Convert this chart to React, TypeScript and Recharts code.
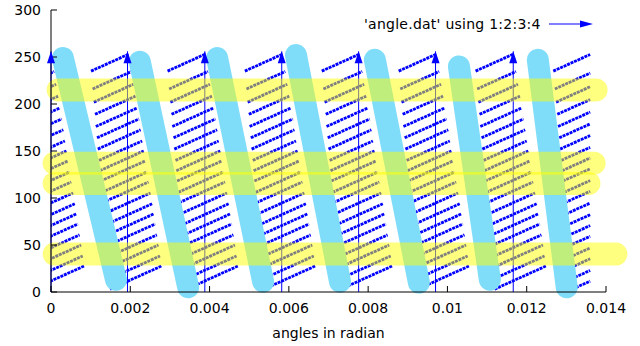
import { ComposedChart, Line, XAxis, YAxis, ReferenceLine, Legend } from "recharts";

// axes
const xTicks = [0, 0.002, 0.004, 0.006, 0.008, 0.01, 0.012, 0.014];
const yTicks = [0, 50, 100, 150, 200, 250, 300];

// long vertical vectors
const arrowX = [0, 0.00193, 0.00388, 0.00582, 0.00776, 0.0097, 0.01166];
const arrowTop = 256;

// rows of small vectors, one set per column (x offsets are relative to the column arrow)
const rowY = [3, 14, 26, 37, 49, 60, 71, 83, 95, 106, 118, 129, 140, 152, 164, 176, 189, 202, 216, 235];
const rowStart = [
  0.00149, 0.00147, 0.00145, 0.00142, 0.0014, 0.00138, 0.00135, 0.00133, 0.0013, 0.00128,
  0.00125, 0.00123, 0.00121, 0.00118, 0.00116, 0.00113, 0.00111, 0.00108, 0.00105, 0.00101,
];
const rowEnd = [
  0.00279, 0.00275, 0.00271, 0.00267, 0.00263, 0.00259, 0.00255, 0.00251, 0.00246, 0.00242,
  0.00238, 0.00234, 0.0023, 0.00226, 0.00222, 0.00218, 0.00213, 0.00208, 0.00203, 0.00197,
];
const rowColumns = [-0.00195, ...arrowX];
const rowSlope = 19000;
const dataEndX = 0.0136;

// thick cyan strokes
const cyanTop = [
  [0.0003, 249], [0.00224, 245], [0.00419, 249], [0.00618, 252],
  [0.00817, 247], [0.01029, 240], [0.01228, 247],
];
const cyanBottom = [
  [0.00164, 13], [0.00346, 5], [0.00535, 11], [0.00729, 11],
  [0.00928, 10], [0.01107, 13], [0.01301, 5],
];

// thick yellow bands
const bandY = [215, 137, 115.5, 40.4];
const bandStart = [0.00018, 0.00008, 0.00008, 0.00008];
const bandEnd = [0.01375, 0.0137, 0.01357, 0.01425];

type Pt = { x: number; y: number | null; head?: boolean };

const rowPoints: Pt[] = [];
rowColumns.forEach((xc) => {
  rowY.forEach((y0, i) => {
    const x0 = xc + rowStart[i];
    const x1 = Math.min(xc + rowEnd[i], dataEndX);
    if (x1 <= x0) return;
    rowPoints.push({ x: x0, y: y0 }, { x: x1, y: y0 + rowSlope * (x1 - x0) }, { x: x1, y: null });
  });
});

const arrowPoints: Pt[] = [];
arrowX.forEach((x) => {
  arrowPoints.push({ x, y: 0 }, { x, y: arrowTop, head: true }, { x, y: null });
});

const cyanPoints: Pt[] = [];
cyanTop.forEach((t, i) => {
  const b = cyanBottom[i];
  cyanPoints.push({ x: t[0], y: t[1] }, { x: b[0], y: b[1] }, { x: b[0], y: null });
});

const BLUE = "#0000ff";

const ArrowHead = (props: any) => {
  const { cx, cy, payload, index } = props;
  if (!payload || !payload.head || cx == null || cy == null) return <g key={index} />;
  return (
    <polygon
      key={index}
      points={`${cx},${cy} ${cx - 4},${cy + 12} ${cx + 4},${cy + 12}`}
      fill={BLUE}
    />
  );
};

const KeyBox = () => (
  <div style={{ display: "flex", alignItems: "center", fontSize: 14, letterSpacing: 0.25, color: "#000", whiteSpace: "nowrap" }}>
    <span>'angle.dat' using 1:2:3:4</span>
    <svg width={46} height={10} style={{ marginLeft: 8 }}>
      <line x1={0} y1={5} x2={36} y2={5} stroke={BLUE} strokeWidth={1} />
      <polygon points="44,5 31,1.5 31,8.5" fill={BLUE} />
    </svg>
  </div>
);

const tickStyle = { fontSize: 14, fill: "#000" };

export default function App() {
  return (
    <div style={{ position: "absolute", left: 0, top: 0, fontFamily: '"DejaVu Sans", sans-serif' }}>
      <ComposedChart width={640} height={346} margin={{ top: 10, right: 34, bottom: 4, left: 6 }}>
        <XAxis
          dataKey="x"
          type="number"
          domain={[0, 0.014]}
          ticks={xTicks}
          height={50}
          tick={tickStyle}
          tickSize={-6}
          tickMargin={17}
          axisLine={{ stroke: "#000" }}
          tickLine={{ stroke: "#000" }}
          label={{ value: "angles in radian", position: "insideBottom", offset: 4, fontSize: 14, fill: "#000" }}
        />
        <XAxis xAxisId="rows" dataKey="x" type="number" domain={[0, 0.014]} allowDataOverflow hide />
        <XAxis
          xAxisId="top"
          orientation="top"
          type="number"
          domain={[0, 0.014]}
          ticks={xTicks}
          allowDataOverflow
          height={0}
          tick={false}
          tickSize={-6}
          axisLine={{ stroke: "#000" }}
          tickLine={{ stroke: "#000" }}
        />
        <YAxis
          type="number"
          domain={[0, 300]}
          ticks={yTicks}
          width={45}
          tick={tickStyle}
          tickSize={-6}
          tickMargin={16}
          axisLine={{ stroke: "#000" }}
          tickLine={{ stroke: "#000" }}
        />
        <YAxis
          yAxisId="right"
          orientation="right"
          type="number"
          domain={[0, 300]}
          ticks={yTicks}
          allowDataOverflow
          width={0}
          tick={false}
          tickSize={-6}
          axisLine={{ stroke: "#000" }}
          tickLine={{ stroke: "#000" }}
        />
        <Legend
          verticalAlign="middle"
          align="center"
          content={() => <KeyBox />}
          wrapperStyle={{ position: "absolute", top: 16, left: 364, width: "auto" }}
        />
        <Line
          xAxisId="rows"
          data={rowPoints}
          dataKey="y"
          stroke={BLUE}
          strokeWidth={2.8}
          strokeDasharray="3 0.8"
          dot={false}
          activeDot={false}
          isAnimationActive={false}
        />
        <Line
          data={arrowPoints}
          dataKey="y"
          stroke={BLUE}
          strokeWidth={1}
          dot={ArrowHead}
          activeDot={false}
          isAnimationActive={false}
        />
        <Line
          data={cyanPoints}
          dataKey="y"
          stroke="#80DDFA"
          strokeWidth={22}
          strokeLinecap="round"
          dot={false}
          activeDot={false}
          isAnimationActive={false}
        />
        {bandY.map((y, i) => (
          <ReferenceLine
            key={i}
            segment={[
              { x: bandStart[i], y },
              { x: bandEnd[i], y },
            ]}
            ifOverflow="visible"
            stroke="#ffff00"
            strokeOpacity={0.5}
            strokeWidth={23}
            strokeLinecap="round"
          />
        ))}
      </ComposedChart>
    </div>
  );
}
